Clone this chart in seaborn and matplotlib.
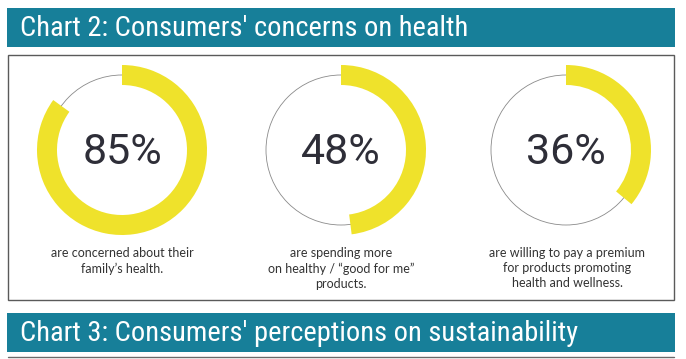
import matplotlib
matplotlib.use("Agg")
import matplotlib.pyplot as plt
import seaborn as sns
from matplotlib import font_manager
from matplotlib.patches import Rectangle, Circle

# ---- data ----
percent_values = [85, 48, 36]
percent_labels = ["85%", "48%", "36%"]
captions = [
    "are concerned about their\nfamily\u2019s health.",
    "are spending more\non healthy / \u201cgood for me\u201d\nproducts.",
    "are willing to pay a premium\nfor products promoting\nhealth and wellness.",
]
title_top = "Chart 2: Consumers' concerns on health"
title_bottom = "Chart 3: Consumers' perceptions on sustainability"

# ---- style ----
sns.set_theme(style="white")
avail = {f.name for f in font_manager.fontManager.ttflist}
def pick(*names):
    for n in names:
        if n in avail:
            return n
    return "DejaVu Sans"

title_font = pick("Liberation Sans Narrow", "Roboto Condensed", "Open Sans Condensed", "DejaVu Sans")
num_font = pick("Roboto", "Lato", "DejaVu Sans")
cap_font = pick("Lato", "Open Sans", "DejaVu Sans")

TEAL = "#177f99"
YELLOW = "#efe22b"
DARK = "#2e2e38"

W, H = 686, 359
fig = plt.figure(figsize=(W / 100, H / 100), dpi=100)
fig.patch.set_facecolor("white")

def fx(x):
    return x / W

def fy(y):
    return 1 - y / H

# banners
for (y0, y1, txt) in [(8, 47, title_top), (313, 352, title_bottom)]:
    fig.patches.append(Rectangle((fx(7), fy(y1)), fx(675) - fx(7), fy(y0) - fy(y1),
                                 transform=fig.transFigure, facecolor=TEAL, edgecolor="none"))
    fig.text(fx(20), fy((y0 + y1) / 2 + 1), txt, color="white", fontsize=20.5,
             family=title_font, ha="left", va="center")

# box
fig.patches.append(Rectangle((fx(8), fy(300)), fx(674) - fx(8), fy(55) - fy(300),
                             transform=fig.transFigure, facecolor="none",
                             edgecolor="#5a5a5a", linewidth=1.0))
# bottom line
fig.lines.append(plt.Line2D([fx(8), fx(674)], [fy(357), fy(357)], transform=fig.transFigure,
                            color="#6a6a6a", linewidth=1.0))

centers = [(122, 150), (341, 150), (566, 150)]
R = 85
cap_centers = [122, 341, 567]

for i, (v, lab, cap) in enumerate(zip(percent_values, percent_labels, captions)):
    cx, cy = centers[i]
    ax = fig.add_axes([fx(cx - R), fy(cy + R), 2 * R / W, 2 * R / H])
    ax.pie([v, 100 - v], startangle=90, counterclock=False,
           colors=[YELLOW, "none"], radius=1.0,
           wedgeprops=dict(width=20 / R, edgecolor="none", linewidth=0))
    ax.add_patch(Circle((0, 0), 75 / R, facecolor="none", edgecolor="#8a8a8a",
                        linewidth=0.6, zorder=0))
    ax.set_xlim(-1, 1)
    ax.set_ylim(-1, 1)
    ax.set_aspect("equal")
    ax.axis("off")
    ax.text(0, -2 / R, lab, ha="center", va="center", fontsize=31, color=DARK,
            family=num_font)
    fig.text(fx(cap_centers[i]), fy(247), cap, ha="center", va="top", fontsize=9,
             color="#333333", family=cap_font, linespacing=1.3)

fig.savefig("out.png", dpi=100, facecolor="white")
